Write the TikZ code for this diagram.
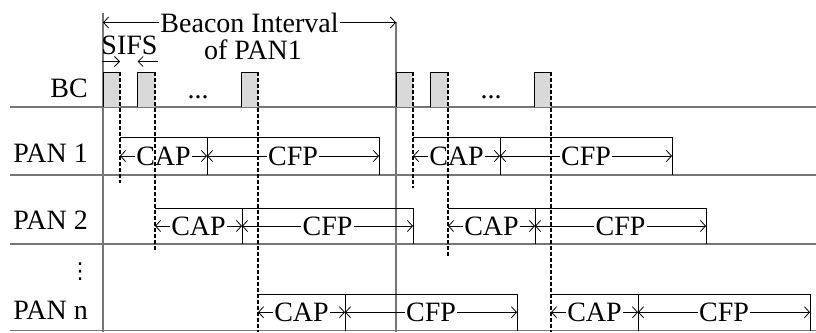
\documentclass[tikz,border=0pt]{standalone}
\usepackage{fontspec}
\setmainfont{Liberation Serif}
\newfontfamily\symfont{DejaVu Sans}
\usetikzlibrary{arrows.meta}
\definecolor{gridgray}{HTML}{767676}
\definecolor{bcgray}{HTML}{D9D9D9}
\begin{document}
\begin{tikzpicture}[x=1pt,y=-1pt,
  txt/.style={font=\fontsize{28}{30}\selectfont, inner sep=0.5pt},
  lbl/.style={txt, fill=white, inner xsep=1.5pt, inner ysep=0.5pt},
  gridline/.style={draw=gridgray, line width=1.6pt},
  boxline/.style={draw=black, line width=0.9pt},
  arr/.style={draw=black, line width=0.8pt, {Straight Barb[length=5pt,width=11pt]}-{Straight Barb[length=5pt,width=11pt]}},
  sarr/.style={draw=black, line width=0.8pt, -{Straight Barb[length=5pt,width=10pt]}},
  dsh/.style={draw=black, line width=1.2pt, dash pattern=on 4pt off 2pt}]
\useasboundingbox (0,0) rectangle (816,332);
% grid lines
\draw[gridline] (10,107) -- (816,107);
\draw[gridline] (10,175) -- (816,175);
\draw[gridline] (10,244) -- (816,244);
\draw[gridline] (10,330.5) -- (816,330.5);
\draw[gridline, line width=1.3pt] (103,13) -- (103,332);
\draw[gridline, line width=1.3pt] (396,22) -- (396,332);
% row labels
\node[txt, anchor=east] (bc) at (88.5,88) {BC};
\node[txt, anchor=east] (p1) at (88.5,153) {PAN 1};
\node[txt, anchor=east] (p2) at (88.5,220) {PAN 2};
\node[txt, anchor=center, font=\fontsize{22}{24}\selectfont] (vd) at (80,272) {\symfont ⋮};
\node[txt, anchor=east] (pn) at (88.5,310) {PAN n};
% beacon boxes
\foreach \a/\b in {103/120,137.5/155,241/258,396.5/413,430.5/448,534/551}{
  \fill[bcgray] (\a,72) rectangle (\b,107);
  \draw[boxline] (\b,72) -- (\a,72) -- (\a,107);
}
\node[txt, anchor=base] (d1) at (198,98.5) {...};
\node[txt, anchor=base] (d2) at (491,98.5) {...};
% beacon interval
\draw[arr] (103,22.5) -- node[lbl] (bi) {Beacon Interval} (396,22.5);
\node[txt] (of) at (253,50) {of PAN1};
\node[txt] (sifs) at (129.5,45) {SIFS};
\draw[sarr] (102,61.5) -- (120,61.5);
\draw[sarr] (158,61.5) -- (137.5,61.5);
% CAP/CFP slots
\foreach \xa/\xb/\xc/\yt/\yb in {120/207/379/137/175, 413/500/672/137/175,
  155/242/413/208/244, 448/535/706/208/244,
  258/345/517/294/330.5, 551/638/810/294/330.5}{
  \draw[boxline] (\xa,\yt) -- (\xc,\yt) -- (\xc,\yb);
  \draw[boxline] (\xb,\yt) -- (\xb,\yb);
  \pgfmathsetmacro{\ym}{(\yt+\yb)/2}
  \draw[arr] (\xa,\ym) -- node[lbl] {CAP} (\xb,\ym);
  \draw[arr] (\xb,\ym) -- node[lbl] {CFP} (\xc,\ym);
}
% dashed lines
\draw[dsh] (120,72) -- (120,183);
\draw[dsh] (155,72) -- (155,252);
\draw[dsh] (258,72) -- (258,332);
\draw[dsh] (413,72) -- (413,188);
\draw[dsh] (448,72) -- (448,257);
\draw[dsh] (551,72) -- (551,332);
\end{tikzpicture}
\end{document}
